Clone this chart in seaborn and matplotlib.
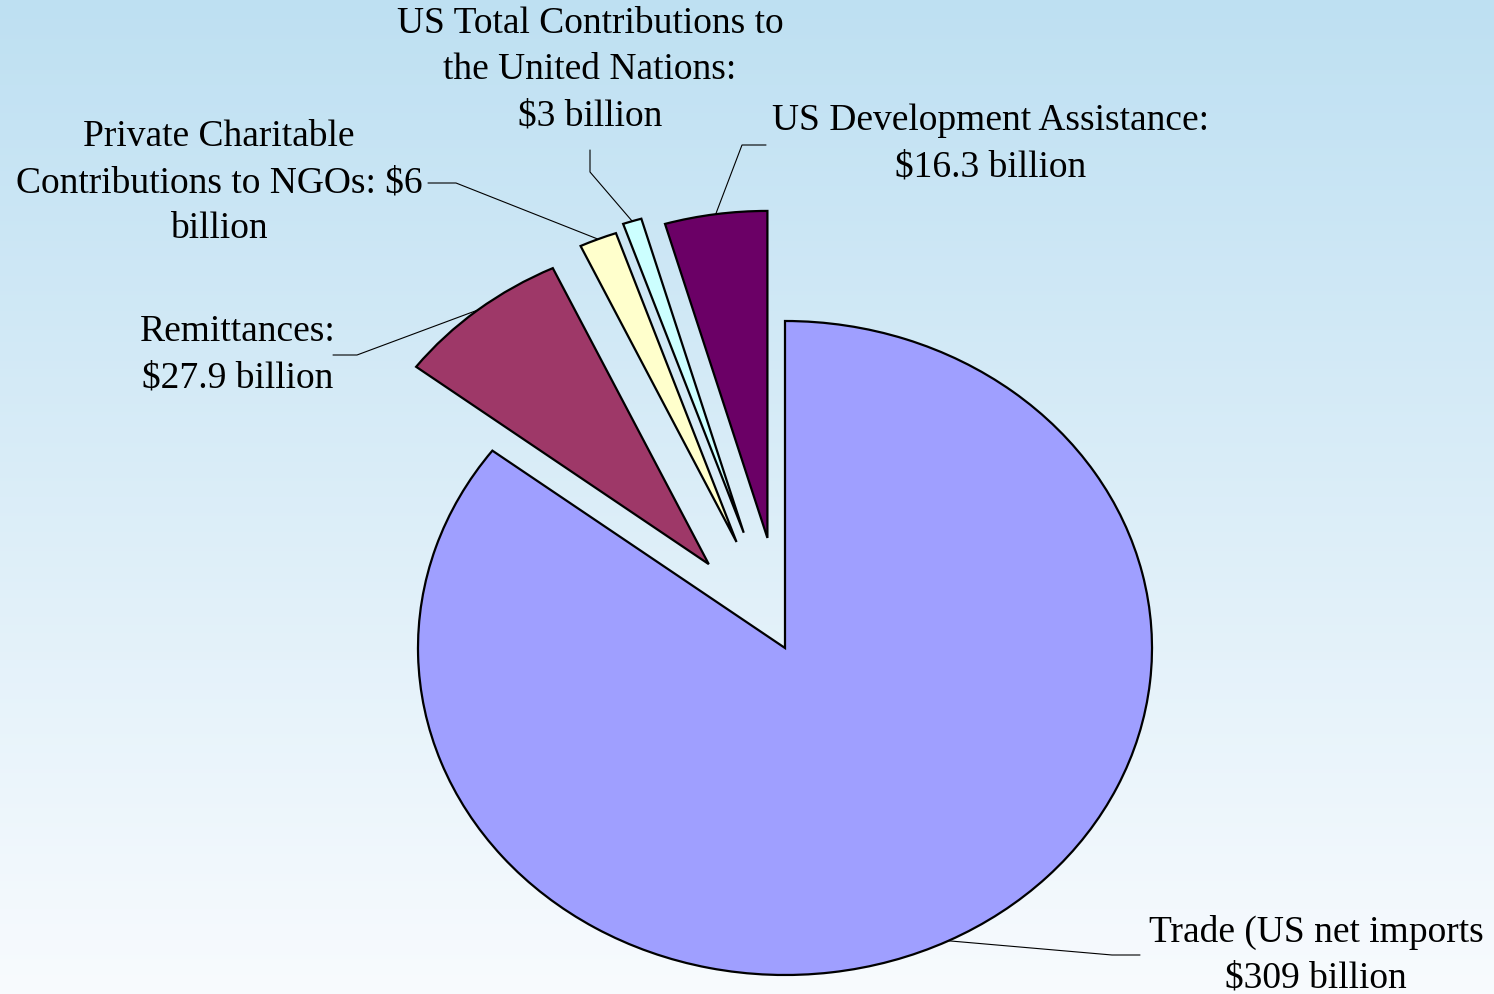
import numpy as np
import matplotlib
matplotlib.use('Agg')
import matplotlib.pyplot as plt
import seaborn as sns

sns.set_theme(style='white')
plt.rcParams['font.family'] = ['Liberation Serif', 'DejaVu Serif']

# 数据
categories = ['Trade (US net imports', 'Remittances:', 'Private Charitable\nContributions to NGOs:',
              'US Total Contributions to\nthe United Nations:', 'US Development Assistance:']
values = [309, 27.9, 6, 3, 16.3]
label_text = ['Trade (US net imports\n$309 billion',
              'Remittances:\n$27.9 billion',
              'Private Charitable\nContributions to NGOs: $6\nbillion',
              'US Total Contributions to\nthe United Nations:\n$3 billion',
              'US Development Assistance:\n$16.3 billion']
colors = ['#9f9fff', '#9e3868', '#ffffcc', '#ccffff', '#6b0066']
explode = [0, 0.33, 0.35, 0.37, 0.34]

W, H = 1494, 994
fig = plt.figure(figsize=(W / 100, H / 100), dpi=100)

# 背景渐变
bg = fig.add_axes([0, 0, 1, 1])
top = np.array([190, 224, 242]) / 255
bottom = np.array([248, 251, 254]) / 255
t = np.linspace(0, 1, 256)[:, None]
grad = top[None, :] * (1 - t) + bottom[None, :] * t
bg.imshow(grad[:, None, :], aspect='auto', extent=[0, 1, 0, 1])
bg.set_axis_off()

# 饼图（椭圆形）
ax = fig.add_axes([0, 0, 1, 1])
ax.patch.set_alpha(0)
wedges, _ = ax.pie(values, colors=colors, explode=explode, startangle=90, counterclock=False,
                   wedgeprops=dict(edgecolor='black', linewidth=1.6))
cx, cy, rx, ry = 785, 648, 367, 327
ax.set_aspect('auto')
ax.set_xlim(-cx / rx, (W - cx) / rx)
ax.set_ylim(-(H - cy) / ry, cy / ry)
ax.set_axis_off()

# 标签位置（图像像素，上为0）与引线
text_pos = [(1316, 955), (238, 355), (219, 183), (590, 70), (991, 144)]
anchors = [(1140, 955), (333, 355), (428, 183), (590, 150), (766, 145)]
elbows = [(1112, 955), (357, 355), (456, 183), (590, 172), (742, 145)]

fig.canvas.draw()
for w, txt, tp, an, el in zip(wedges, label_text, text_pos, anchors, elbows):
    mid = np.deg2rad((w.theta1 + w.theta2) / 2)
    px, py = w.center[0] + w.r * np.cos(mid), w.center[1] + w.r * np.sin(mid)
    dx, dy = ax.transData.transform((px, py))
    fig.text(tp[0] / W, 1 - tp[1] / H, txt, ha='center', va='center', fontsize=27,
             linespacing=1.43, color='black')
    xs = [an[0], el[0], dx]
    ys = [H - an[1], H - el[1], dy]
    fig.add_artist(plt.Line2D(np.array(xs) / W, np.array(ys) / H, color='black', lw=0.8,
                              transform=fig.transFigure))

fig.savefig('out.png', dpi=100)
